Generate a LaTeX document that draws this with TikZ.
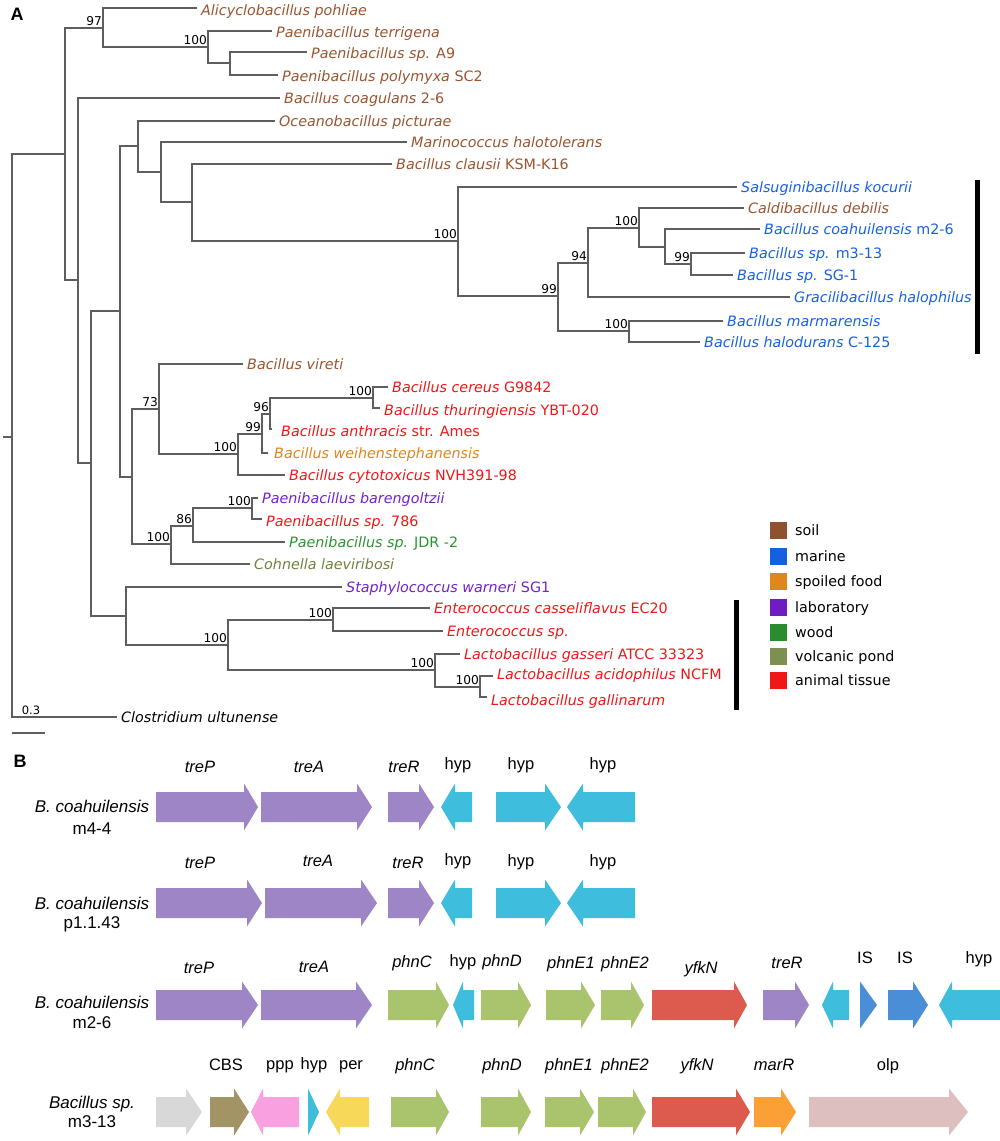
\documentclass[tikz,border=0pt]{standalone}
\usepackage{fontspec}
\setmainfont{DejaVu Sans}
\newfontfamily\gf{Liberation Sans}
\definecolor{treegray}{HTML}{5E5E5E}
\definecolor{soil}{HTML}{9A5530}
\definecolor{marine}{HTML}{1862E0}
\definecolor{food}{HTML}{E0861C}
\definecolor{lab}{HTML}{7422C8}
\definecolor{wood}{HTML}{2A9430}
\definecolor{volc}{HTML}{6E843E}
\definecolor{anim}{HTML}{EE1818}
\definecolor{lsoil}{HTML}{8E5230}
\definecolor{lmarine}{HTML}{1460E0}
\definecolor{lfood}{HTML}{E0861C}
\definecolor{llab}{HTML}{6E1CC4}
\definecolor{lwood}{HTML}{2A8C2E}
\definecolor{lvolc}{HTML}{7E9050}
\definecolor{lanim}{HTML}{EE1818}
\definecolor{gpurple}{HTML}{9D85C6}
\definecolor{gcyan}{HTML}{3EBEDC}
\definecolor{ggreen}{HTML}{A9C46C}
\definecolor{gred}{HTML}{DD5A4E}
\definecolor{gblue}{HTML}{4A8ED8}
\definecolor{ggrey}{HTML}{D8D8D8}
\definecolor{golive}{HTML}{A39466}
\definecolor{gpink}{HTML}{F8A0E0}
\definecolor{gyellow}{HTML}{F8D858}
\definecolor{gorange}{HTML}{FAA035}
\definecolor{golp}{HTML}{DEBFBF}
\newcommand\up[1]{{\upshape #1}}
\tikzset{
  br/.style={draw=treegray, line width=1.4pt},
  tl/.style={anchor=base west, inner sep=0pt, font=\fontsize{14.3}{16}\selectfont\itshape},
  bsn/.style={anchor=south east, inner sep=0pt, font=\fontsize{12.2}{13}\selectfont},
  legt/.style={anchor=base west, inner sep=0pt, font=\fontsize{14.3}{16}\selectfont},
  gl/.style={anchor=base, inner sep=0pt, font=\gf\fontsize{16.5}{20}\selectfont},
  gli/.style={gl, font=\gf\fontsize{16.5}{20}\selectfont\itshape},
  gname/.style={anchor=base, inner sep=0pt, font=\gf\fontsize{17}{20}\selectfont},
  panel/.style={inner sep=0pt, font=\gf\fontsize{18}{20}\selectfont\bfseries}
}
% leaf: name, tip x, y, colour, text
\newcommand\leaf[5]{\node[tl,text=#4] (#1) at (#2+4,#3+5) {#5};}
% bootstrap: name, node x, incoming y, value
\newcommand\bs[4]{\node[bsn] (#1) at (#2-1,#3-2) {#4};}
% right gene arrow: x1, head base, tip, y centre, colour
\newcommand\gR[5]{\fill[#5] (#1,#4-15) -- (#2,#4-15) -- (#2,#4-23.5) -- (#3,#4) -- (#2,#4+23.5) -- (#2,#4+15) -- (#1,#4+15) -- cycle;}
% left gene arrow: tip, head base, end, y centre, colour
\newcommand\gL[5]{\fill[#5] (#3,#4-15) -- (#2,#4-15) -- (#2,#4-23.5) -- (#1,#4) -- (#2,#4+23.5) -- (#2,#4+15) -- (#3,#4+15) -- cycle;}
\begin{document}
\begin{tikzpicture}[x=1pt,y=-1pt]
\useasboundingbox (0,0) rectangle (1000,1141);
\fill[white] (0,0) rectangle (1000,1141);
% ---------------- panel A ----------------
\node[panel] (pA) at (17,14) {A};
% tree brackets
\draw[br] (3,437) -- (12,437);
\draw[br] (65,154) -- (12,154) -- (12,717) -- (117,717);
\draw[br] (103,28) -- (65,28) -- (65,280) -- (78,280);
\draw[br] (197,8) -- (103,8) -- (103,47) -- (208,47);
\draw[br] (272,31) -- (208,31) -- (208,63) -- (230,63);
\draw[br] (307,52) -- (230,52) -- (230,75) -- (278,75);
\draw[br] (280,98) -- (78,98) -- (78,463) -- (91,463);
\draw[br] (120,311) -- (91,311) -- (91,616) -- (126,616);
\draw[br] (138,146) -- (120,146) -- (120,477) -- (132,477);
\draw[br] (275,121) -- (138,121) -- (138,172) -- (161,172);
\draw[br] (407,142) -- (161,142) -- (161,202) -- (192,202);
\draw[br] (392,164) -- (192,164) -- (192,241) -- (458,241);
\draw[br] (737,187) -- (458,187) -- (458,296) -- (558,296);
\draw[br] (588,263) -- (558,263) -- (558,331) -- (629,331);
\draw[br] (639,228) -- (588,228) -- (588,297) -- (790,297);
\draw[br] (744,208) -- (639,208) -- (639,247) -- (665,247);
\draw[br] (760,229) -- (665,229) -- (665,264) -- (691,264);
\draw[br] (745,253) -- (691,253) -- (691,275) -- (733,275);
\draw[br] (723,321) -- (629,321) -- (629,342) -- (700,342);
\draw[br] (159,409) -- (132,409) -- (132,544) -- (171,544);
\draw[br] (243,364) -- (159,364) -- (159,454) -- (238,454);
\draw[br] (262,434) -- (238,434) -- (238,475) -- (285,475);
\draw[br] (270,414) -- (262,414) -- (262,453) -- (268,453);
\draw[br] (373,398) -- (270,398) -- (270,429) -- (272,429);
\draw[br] (388,387) -- (373,387) -- (373,408) -- (380,408);
\draw[br] (193,526) -- (171,526) -- (171,564) -- (250,564);
\draw[br] (252,508) -- (193,508) -- (193,542) -- (285,542);
\draw[br] (258,498) -- (252,498) -- (252,519) -- (262,519);
\draw[br] (342,587) -- (126,587) -- (126,645) -- (228,645);
\draw[br] (333,620) -- (228,620) -- (228,670) -- (435,670);
\draw[br] (430,608) -- (333,608) -- (333,631) -- (443,631);
\draw[br] (460,654) -- (435,654) -- (435,687) -- (480,687);
\draw[br] (493,676) -- (480,676) -- (480,697) -- (487,697);
% leaves
\leaf{l1}{197}{10}{soil}{Alicyclobacillus pohliae}
\leaf{l2}{272}{32}{soil}{Paenibacillus terrigena}
\leaf{l3}{307}{53}{soil}{Paenibacillus sp. \up{A9}}
\leaf{l4}{278}{76}{soil}{Paenibacillus polymyxa \up{SC2}}
\leaf{l5}{280}{98}{soil}{Bacillus coagulans \up{2-6}}
\leaf{l6}{275}{121}{soil}{Oceanobacillus picturae}
\leaf{l7}{407}{142}{soil}{Marinococcus halotolerans}
\leaf{l8}{392}{164}{soil}{Bacillus clausii \up{KSM-K16}}
\leaf{l9}{737}{187}{marine}{Salsuginibacillus kocurii}
\leaf{l10}{744}{208}{soil}{Caldibacillus debilis}
\leaf{l11}{760}{229}{marine}{Bacillus coahuilensis \up{m2-6}}
\leaf{l12}{745}{253}{marine}{Bacillus sp. \up{m3-13}}
\leaf{l13}{733}{275}{marine}{Bacillus sp. \up{SG-1}}
\leaf{l14}{790}{297}{marine}{Gracilibacillus halophilus}
\leaf{l15}{723}{321}{marine}{Bacillus marmarensis}
\leaf{l16}{700}{342}{marine}{Bacillus halodurans \up{C-125}}
\leaf{l17}{243}{364}{soil}{Bacillus vireti}
\leaf{l18}{388}{387}{anim}{Bacillus cereus \up{G9842}}
\leaf{l19}{380}{410}{anim}{Bacillus thuringiensis \up{YBT-020}}
\leaf{l20}{277}{431}{anim}{Bacillus anthracis \up{str. Ames}}
\leaf{l21}{270}{453}{food}{Bacillus weihenstephanensis}
\leaf{l22}{285}{475}{anim}{Bacillus cytotoxicus \up{NVH391-98}}
\leaf{l23}{258}{498}{lab}{Paenibacillus barengoltzii}
\leaf{l24}{262}{521}{anim}{Paenibacillus sp. \up{786}}
\leaf{l25}{285}{542}{wood}{Paenibacillus sp. \up{JDR -2}}
\leaf{l26}{250}{564}{volc}{Cohnella laeviribosi}
\leaf{l27}{342}{587}{lab}{Staphylococcus warneri \up{SG1}}
\leaf{l28}{430}{608}{anim}{Enterococcus casseliflavus \up{EC20}}
\leaf{l29}{443}{631}{anim}{Enterococcus sp.}
\leaf{l30}{460}{654}{anim}{Lactobacillus gasseri \up{ATCC 33323}}
\leaf{l31}{493}{674}{anim}{Lactobacillus acidophilus \up{NCFM}}
\leaf{l32}{487}{700}{anim}{Lactobacillus gallinarum}
\leaf{l33}{117}{717}{black}{Clostridium ultunense}
% bootstrap values
\bs{b1}{103}{28}{97}
\bs{b2}{208}{47}{100}
\bs{b3}{458}{241}{100}
\bs{b4}{558}{296}{99}
\bs{b5}{588}{263}{94}
\bs{b6}{639}{228}{100}
\bs{b7}{691}{264}{99}
\bs{b8}{629}{331}{100}
\bs{b9}{159}{409}{73}
\bs{b10}{238}{454}{100}
\bs{b11}{262}{434}{99}
\bs{b12}{270}{414}{96}
\bs{b13}{373}{398}{100}
\bs{b14}{171}{544}{100}
\bs{b15}{193}{526}{86}
\bs{b16}{252}{508}{100}
\bs{b17}{228}{645}{100}
\bs{b18}{333}{620}{100}
\bs{b19}{435}{670}{100}
\bs{b20}{480}{687}{100}
% scale bar
\draw[br] (12,733) -- (45,733);
\node[anchor=base, inner sep=0pt, font=\fontsize{11.5}{12}\selectfont] (sc) at (31,714) {0.3};
% clade bars
\fill[black] (975,180) rectangle (980,354);
\fill[black] (734,600) rectangle (739,710);
% legend
\foreach \c/\t/\y [count=\i] in {lsoil/soil/530, lmarine/marine/556, lfood/spoiled food/581, llab/laboratory/607, lwood/wood/632, lvolc/volcanic pond/656, lanim/animal tissue/680}{
  \fill[\c] (770,\y-8.5) rectangle (787,\y+8.5);
  \node[legt] (lg\i) at (795,\y+5) {\t};
}
% ---------------- panel B ----------------
\node[panel] (pB) at (20,761) {B};
% row 1
\gR{156}{244}{258}{807}{gpurple}
\gR{261}{357}{372}{807}{gpurple}
\gR{388}{419}{434}{807}{gpurple}
\gL{441}{455}{472}{807}{gcyan}
\gR{496}{545}{561}{807}{gcyan}
\gL{567}{583}{635}{807}{gcyan}
\node[gli] (r1a) at (200,772) {treP};
\node[gli] (r1b) at (309,772) {treA};
\node[gli] (r1c) at (404,772) {treR};
\node[gl] (r1d) at (458,769) {hyp};
\node[gl] (r1e) at (521,769) {hyp};
\node[gl] (r1f) at (603,769) {hyp};
\node[gname] (n1a) at (92,812) {\itshape B. coahuilensis};
\node[gname] (n1b) at (92,834) {m4-4};
% row 2
\gR{156}{247}{262}{903}{gpurple}
\gR{265}{361}{377}{903}{gpurple}
\gR{388}{419}{434}{903}{gpurple}
\gL{441}{455}{472}{903}{gcyan}
\gR{496}{545}{561}{903}{gcyan}
\gL{567}{583}{635}{903}{gcyan}
\node[gli] (r2a) at (200,868) {treP};
\node[gli] (r2b) at (318,866) {treA};
\node[gli] (r2c) at (408,868) {treR};
\node[gl] (r2d) at (458,865) {hyp};
\node[gl] (r2e) at (521,866) {hyp};
\node[gl] (r2f) at (603,866) {hyp};
\node[gname] (n2a) at (92,909) {\itshape B. coahuilensis};
\node[gname] (n2b) at (92,928) {p1.1.43};
% row 3
\gR{156}{242}{258}{1005}{gpurple}
\gR{261}{356}{372}{1005}{gpurple}
\gR{388}{436}{449}{1005}{ggreen}
\gL{453}{463}{474}{1005}{gcyan}
\gR{481}{518}{531}{1005}{ggreen}
\gR{546}{581}{595}{1005}{ggreen}
\gR{601}{631}{644}{1005}{ggreen}
\gR{652}{734}{747}{1005}{gred}
\gR{763}{795}{809}{1005}{gpurple}
\gL{822}{833}{849}{1005}{gcyan}
\gR{860}{860}{877}{1005}{gblue}
\gR{888}{913}{928}{1005}{gblue}
\gL{939}{952}{1000}{1005}{gcyan}
\node[gli] (r3a) at (199,973) {treP};
\node[gli] (r3b) at (314,972) {treA};
\node[gli] (r3c) at (412,967) {phnC};
\node[gl] (r3d) at (463,966) {hyp};
\node[gli] (r3e) at (502,966) {phnD};
\node[gli] (r3f) at (571,968) {phnE1};
\node[gli] (r3g) at (625,968) {phnE2};
\node[gli] (r3h) at (701,973) {yfkN};
\node[gli] (r3i) at (787,968) {treR};
\node[gl] (r3j) at (865,963) {IS};
\node[gl] (r3k) at (905,963) {IS};
\node[gl] (r3l) at (979,963) {hyp};
\node[gname] (n3a) at (92,1008) {\itshape B. coahuilensis};
\node[gname] (n3b) at (92,1028) {m2-6};
% row 4
\gR{156}{186}{202}{1112}{ggrey}
\gR{210}{234}{249}{1112}{golive}
\gL{251}{263}{299}{1112}{gpink}
\gR{308}{308}{319}{1112}{gcyan}
\gL{326}{340}{369}{1112}{gyellow}
\gR{391}{436}{449}{1112}{ggreen}
\gR{481}{518}{531}{1112}{ggreen}
\gR{545}{580}{594}{1112}{ggreen}
\gR{598}{633}{646}{1112}{ggreen}
\gR{652}{736}{750}{1112}{gred}
\gR{754}{781}{796}{1112}{gorange}
\gR{809}{949}{968}{1112}{golp}
\node[gl] (r4a) at (226,1070) {CBS};
\node[gl] (r4b) at (280,1069) {ppp};
\node[gl] (r4c) at (314,1069) {hyp};
\node[gl] (r4d) at (351,1069) {per};
\node[gli] (r4e) at (415,1070) {phnC};
\node[gli] (r4f) at (502,1070) {phnD};
\node[gli] (r4g) at (569,1070) {phnE1};
\node[gli] (r4h) at (625,1070) {phnE2};
\node[gli] (r4i) at (697,1070) {yfkN};
\node[gli] (r4j) at (774,1070) {marR};
\node[gl] (r4k) at (888,1070) {olp};
\node[gname] (n4a) at (92,1108) {\itshape Bacillus sp.};
\node[gname] (n4b) at (92,1127) {m3-13};
\end{tikzpicture}
\end{document}
